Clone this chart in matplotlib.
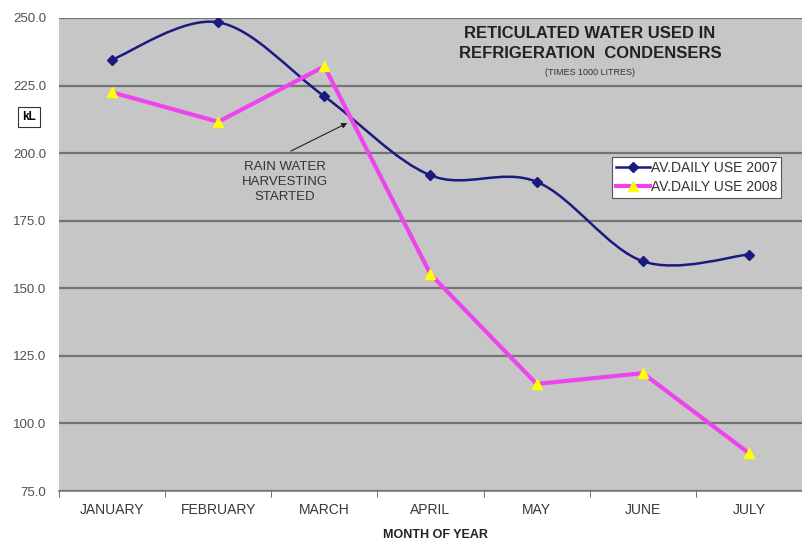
import numpy as np
import matplotlib
matplotlib.use("Agg")
import matplotlib.pyplot as plt
from matplotlib.path import Path
from matplotlib.patches import PathPatch
from matplotlib.lines import Line2D

plt.rcParams["font.family"] = ["Liberation Sans", "DejaVu Sans"]

# -------------------------------
# data
# -------------------------------
months = ["JANUARY", "FEBRUARY", "MARCH", "APRIL", "MAY", "JUNE", "JULY"]
use_2007 = [234.6, 248.4, 221.0, 191.8, 189.4, 160.0, 162.5]
use_2008 = [222.5, 211.6, 232.1, 155.2, 114.6, 118.6, 89.0]
y_ticks = [75, 100, 125, 150, 175, 200, 225, 250]
label_2007 = "AV.DAILY USE 2007"
label_2008 = "AV.DAILY USE 2008"

# where the "rain water harvesting" arrow points (between march and april)
note_at = (2.24, 211.6)
note_text_at = (1.63, 189.3)

W, H = 803, 541
fig = plt.figure(figsize=(W / 100, H / 100), dpi=100)
fig.patch.set_facecolor("white")

# plot area in pixels: left 59, right 802, top 18, bottom 491
ax = fig.add_axes([59 / W, 1 - 491 / H, 743 / W, 473 / H])
ax.set_facecolor("#c6c6c6")

x = np.arange(len(months))


def smooth_path(xs, ys):
    # excel style smoothed line: bezier through every point
    pts = np.column_stack([xs, ys]).astype(float)
    n = len(pts)
    verts = [pts[0]]
    codes = [Path.MOVETO]
    for i in range(n - 1):
        p0 = pts[max(i - 1, 0)]
        p1 = pts[i]
        p2 = pts[i + 1]
        p3 = pts[min(i + 2, n - 1)]
        verts += [p1 + (p2 - p0) / 6, p2 - (p3 - p1) / 6, p2]
        codes += [Path.CURVE4] * 3
    return Path(verts, codes)


navy = "#1a1a80"
magenta = "#ee44ee"
yellow = "#ffff00"

# 2007 - smoothed line
ax.add_patch(PathPatch(smooth_path(x, use_2007), facecolor="none",
                       edgecolor=navy, lw=1.8, zorder=3))
ax.plot(x, use_2007, ls="none", marker="D", ms=5.5, color=navy, zorder=4)

# 2008 - straight segments
ax.plot(x, use_2008, color=magenta, lw=3.0, zorder=5)
ax.plot(x, use_2008, ls="none", marker="^", ms=7, color=yellow,
        mec=yellow, zorder=6)

ax.set_xlim(-0.5, len(months) - 0.5)
ax.set_ylim(75, 250)
ax.set_yticks(y_ticks)
ax.set_yticklabels([f"{v:.1f}" for v in y_ticks], fontsize=9.5, color="#505050")
ax.tick_params(axis="y", length=0, pad=9)
ax.yaxis.grid(True, color="#747474", lw=1.6)
ax.set_axisbelow(True)

ax.set_xticks(x)
ax.set_xticklabels(months, fontsize=10, color="#383838")
ax.set_xticks(np.arange(-0.5, len(months)), minor=True)
ax.tick_params(axis="x", which="major", length=0, pad=9)
ax.tick_params(axis="x", which="minor", length=4, color="#555555", direction="out")

for side in ["top", "right", "left"]:
    ax.spines[side].set_visible(False)
ax.spines["bottom"].set_color("#777777")
ax.spines["bottom"].set_linewidth(1.2)

fig.text(435 / W, 1 - 535 / H, "MONTH OF YEAR", fontsize=9, fontweight="bold",
         color="#222222", ha="center", va="center")

# title
fig.text(590 / W, 1 - 34 / H, "RETICULATED WATER USED IN", fontsize=12,
         fontweight="bold", color="#222222", ha="center", va="center")
fig.text(590 / W, 1 - 54 / H, "REFRIGERATION  CONDENSERS", fontsize=12,
         fontweight="bold", color="#222222", ha="center", va="center")
fig.text(590 / W, 1 - 73 / H, "(TIMES 1000 LITRES)", fontsize=6.5,
         color="#333333", ha="center", va="center")

# units box
fig.text(29 / W, 1 - 117 / H, "kL", fontsize=8.5, fontweight="bold",
         ha="center", va="center",
         bbox=dict(boxstyle="square,pad=0.35", fc="white", ec="#333333", lw=0.8))

# annotation
ax.annotate("", xy=note_at, xytext=(1.66, 200.3),
            arrowprops=dict(arrowstyle="-|>", color="#222222", lw=0.8,
                            mutation_scale=8))
ax.text(note_text_at[0], note_text_at[1], "RAIN WATER\nHARVESTING\nSTARTED",
        fontsize=9.5, color="#333333", ha="center", va="center",
        linespacing=1.35)

# legend
handles = [
    Line2D([], [], color=navy, lw=1.8, marker="D", ms=5.5),
    Line2D([], [], color=magenta, lw=3.0, marker="^", ms=7, mfc=yellow, mec=yellow),
]
leg = ax.legend(handles, [label_2007, label_2008], loc="upper left",
                bbox_to_anchor=((612 - 59) / 743, (491 - 157) / 473),
                fontsize=10, frameon=True, fancybox=False, framealpha=1,
                edgecolor="#555555", borderpad=0.3, labelspacing=0.35,
                handlelength=2.4, handletextpad=0.1, borderaxespad=0,
                numpoints=1)
leg.get_frame().set_linewidth(0.8)
for t in leg.get_texts():
    t.set_color("#333333")

fig.savefig("out.png", dpi=100)
